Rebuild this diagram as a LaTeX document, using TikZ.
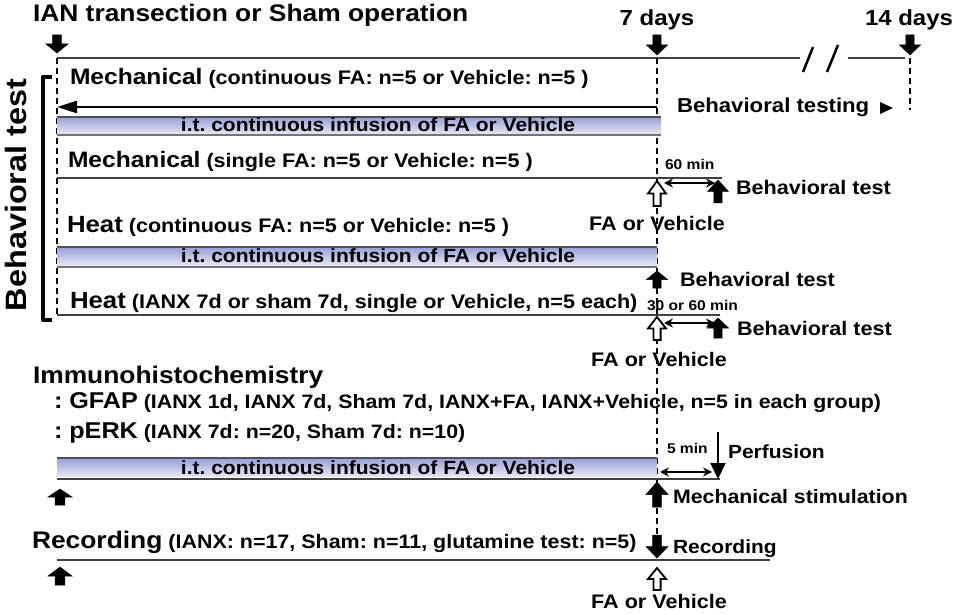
\documentclass[tikz,border=0pt]{standalone}
\usepackage{fontspec}
\setmainfont{Liberation Sans}[FakeStretch=1.1]
\usetikzlibrary{arrows.meta}
\frenchspacing
\newcommand\fsz[1]{\fontsize{\dimexpr #1pt*109/100\relax}{\dimexpr #1pt*109/100\relax}\selectfont}
% block arrow: tip, rotation, length, width, style
\newcommand\blkarrow[5]{%
  \path[#5, shift={#1}, rotate=#2] ({-0.2*#4},{-#3}) -- ({0.2*#4},{-#3}) -- ({0.2*#4},{-0.5*#3}) -- ({0.5*#4},{-0.5*#3}) -- (0,0) -- ({-0.5*#4},{-0.5*#3}) -- ({-0.2*#4},{-0.5*#3}) -- cycle;}
\definecolor{barA}{RGB}{150,160,215}
\definecolor{barB}{RGB}{228,230,244}
\definecolor{barEdge}{RGB}{80,80,90}
\begin{document}
\begin{tikzpicture}[x=1pt,y=-1pt,
  every node/.style={inner sep=0pt, outer sep=0pt, font=\bfseries\frenchspacing},
  lab/.style={anchor=base west},
  labc/.style={anchor=base},
  thinln/.style={draw=black!75, line width=1.1pt},
  dashv/.style={draw=black, line width=2pt, dash pattern=on 6pt off 4pt},
  dbl/.style={line width=2pt, {Stealth[length=9pt,width=9pt]}-{Stealth[length=9pt,width=9pt]}},
  filledarr/.style={fill=black, draw=black, line width=0.5pt},
  openarr/.style={fill=white, draw=black, line width=1.8pt},
  bartop/.style={draw=barEdge, line width=2.5pt},
  barbot/.style={draw=black!55, line width=1.5pt},
]
\useasboundingbox (0,0) rectangle (954,615);

% key coordinates
\coordinate (t0) at (57,58);
\coordinate (t7) at (657,58);
\coordinate (t14) at (910,58);
\coordinate (b0) at (57,318);
\coordinate (b7) at (657,535);
\coordinate (b14) at (910,110);

% ---------- timeline header ----------
\node[lab] (title) at (33,22) {\fsz{22}IAN transection or Sham operation};
\node[labc] (d7) at (657,26) {\fsz{20}7 days};
\node[labc] (d14) at (909,26) {\fsz{20}14 days};
\draw[thinln] (t0) -- (800,58);
\draw[thinln] (848,58) -- (905,58);
\draw[line width=2.5pt] (803,72) -- (813,47);
\draw[line width=2.5pt] (827,72) -- (838,45);
\blkarrow{(57,53)}{0}{18}{22}{filledarr}
\blkarrow{(657,55)}{0}{20}{21}{filledarr}
\blkarrow{(910,55)}{0}{20}{21}{filledarr}

% dashed verticals
\draw[dashv] (t0) -- (b0);
\draw[dashv] (t7) -- (b7);
\draw[dashv] (t14) -- (b14);

% ---------- Behavioral test block ----------
\draw[line width=4pt, line join=round] (52,77) -- (43,77) -- (43,320) -- (52,320);
\node[rotate=90, anchor=center] (brlabel) at (16,195) {\fsz{27}Behavioral test};

% row 1
\node[lab] (mech1) at (70,85) {\fsz{20.5}Mechanical\fsz{18} (continuous FA: n=5 or Vehicle: n=5 )};
\draw[line width=2.5pt, -{Triangle[length=20pt,width=12pt]}] (657,107) -- (57,107);
\node[lab] (bt1) at (677,113) {\fsz{18.5}Behavioral testing};
\fill (880,102) -- (893,108) -- (880,114) -- cycle;
\shade[top color=barA, bottom color=barB] (57,117) rectangle (661,134);
\draw[bartop] (57,117) -- (661,117);
\draw[barbot] (57,135) -- (661,135);
\node[labc] (bar1t) at (378,132) {\fsz{17.5}i.t. continuous infusion of FA or Vehicle};

% row 2
\node[lab] (mech2) at (68,168) {\fsz{20.5}Mechanical\fsz{18} (single FA: n=5 or Vehicle: n=5 )};
\draw[thinln] (57,178) -- (722,178);
\node[lab] (min60) at (665,170) {\fsz{13}60 min};
\blkarrow{(657,181)}{180}{25}{18}{openarr}
\draw[dbl] (664,183) -- (715,183);
\blkarrow{(718,180)}{180}{23}{21}{filledarr}
\node[lab] (btest2) at (736,195) {\fsz{18}Behavioral test};
\node[labc] (fav2) at (657,230) {\fsz{18}FA or Vehicle};

% row 3
\node[lab] (heat1) at (67,233) {\fsz{21.5}Heat\fsz{18} (continuous FA: n=5 or Vehicle: n=5 )};
\shade[top color=barA, bottom color=barB] (57,247) rectangle (657,265);
\draw[bartop] (57,247) -- (657,247);
\draw[barbot] (57,267) -- (657,267);
\node[labc] (bar2t) at (378,262) {\fsz{17.5}i.t. continuous infusion of FA or Vehicle};
\blkarrow{(657,271)}{180}{17}{21}{filledarr}
\node[lab] (btest3) at (680,287) {\fsz{18}Behavioral test};

% row 4
\node[lab] (heat2) at (70,308) {\fsz{21.5}Heat\fsz{18} (IANX 7d or sham 7d, single or Vehicle, n=5 each)};
\node[lab] (min3060) at (647,310) {\fsz{13}30 or 60 min};
\draw[thinln] (57,315) -- (720,315);
\blkarrow{(657,317)}{180}{23}{18}{openarr}
\draw[dbl] (664,323) -- (715,323);
\blkarrow{(718,318)}{180}{20}{21}{filledarr}
\node[lab] (btest4) at (737,335) {\fsz{18}Behavioral test};
\node[labc] (fav4) at (659,366) {\fsz{18}FA or Vehicle};

% ---------- Immunohistochemistry ----------
\node[lab] (ihc) at (33,383) {\fsz{22}Immunohistochemistry};
\node[lab] (gfap) at (54,408) {\fsz{21}: GFAP\fsz{17.8} (IANX 1d, IANX 7d, Sham 7d, IANX+FA, IANX+Vehicle, n=5 in each group)};
\node[lab] (perk) at (54,438) {\fsz{21}: pERK\fsz{17.8} (IANX 7d: n=20, Sham 7d: n=10)};
\shade[top color=barA, bottom color=barB] (57,458) rectangle (657,476);
\draw[bartop] (57,458) -- (657,458);
\draw[thinln] (57,479) -- (720,479);
\node[labc] (bar3t) at (378,474) {\fsz{17.5}i.t. continuous infusion of FA or Vehicle};
\node[lab] (min5) at (667,453) {\fsz{13}5 min};
\draw[dbl] (660,472) -- (712,472);
\draw[line width=2pt, -{Triangle[length=16pt,width=15pt]}] (718,432) -- (718,479);
\node[lab] (perf) at (728,458) {\fsz{17.5}Perfusion};
\blkarrow{(60,489)}{180}{16}{24}{filledarr}
\blkarrow{(657,482)}{180}{25}{22}{filledarr}
\node[lab] (mstim) at (673,503) {\fsz{17.8}Mechanical stimulation};

% ---------- Recording ----------
\node[lab] (rec) at (32,548) {\fsz{22}Recording\fsz{17.9} (IANX: n=17, Sham: n=11, glutamine test: n=5)};
\blkarrow{(657,558)}{0}{23}{22}{filledarr}
\node[lab] (recR) at (673,553) {\fsz{17.5}Recording};
\draw[thinln] (57,560) -- (770,560);
\blkarrow{(60,567)}{180}{18}{24}{filledarr}
\blkarrow{(657,568)}{180}{22}{18}{openarr}
\node[labc] (fav5) at (659,608) {\fsz{18}FA or Vehicle};
\end{tikzpicture}
\end{document}
